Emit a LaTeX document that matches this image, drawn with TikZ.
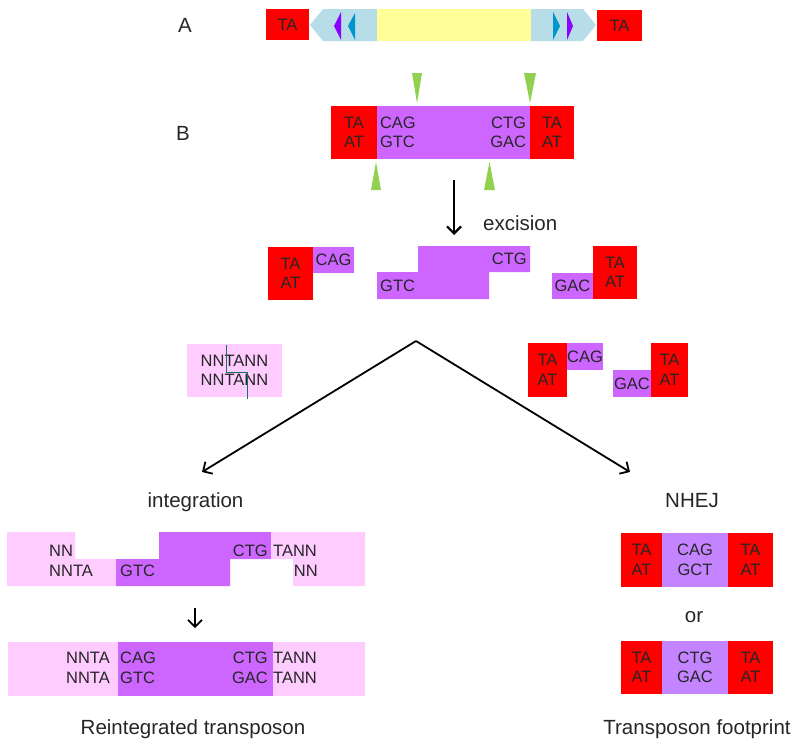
\documentclass[tikz,border=0pt]{standalone}
\usepackage{fontspec}
\setmainfont{Liberation Sans}
\usepackage{tikz}
\usetikzlibrary{arrows.meta,positioning,calc}
\definecolor{tsdred}{RGB}{255, 0, 0}
\definecolor{tnpurple}{RGB}{204, 102, 255}
\definecolor{fppurple}{RGB}{196, 132, 255}
\definecolor{hostpink}{RGB}{255, 204, 255}
\definecolor{tirblue}{RGB}{183, 221, 232}
\definecolor{cargoyellow}{RGB}{255, 255, 153}
\definecolor{cutgreen}{RGB}{146, 208, 80}
\definecolor{tirviolet}{RGB}{140, 0, 255}
\definecolor{tircyan}{RGB}{0, 150, 205}
\definecolor{staggergreen}{RGB}{20, 115, 90}

\begin{document}
\begin{tikzpicture}[
    x=1pt, y=-1pt,
    seq/.style={inner sep=0pt, text=black!85, font=\fontsize{16.5}{19.5}\selectfont, align=center},
    lbl/.style={inner sep=0pt, text=black!85, font=\fontsize{20.5}{24}\selectfont},
    block/.style={rectangle, draw=none, seq},
    tsd/.style={block, fill=tsdred},
    tn/.style={block, fill=tnpurple},
    fp/.style={block, fill=fppurple},
    host/.style={block, fill=hostpink},
    arrow/.style={-{Straight Barb[length=7pt,width=14pt]}, line width=1.8pt, black}
]
\useasboundingbox (0,0) rectangle (800,744);

% A: transposon in the genome
\node[lbl] (labA) at (185,25) {A};
\node[tsd, minimum width=43, minimum height=31] (aTSDl) at (287.5,24.5) {TA};
\node[tsd, minimum width=45, minimum height=31] (aTSDr) at (619.5,25.5) {TA};
\fill[tirblue] (310,25) -- (323,9) -- (583,9) -- (596,25) -- (583,41) -- (323,41) -- cycle;
\fill[cargoyellow] (377,9) rectangle (531,41);
\fill[tirviolet] (334,26) -- (341,12) -- (341,40) -- cycle;
\fill[tircyan] (348,26) -- (355,13) -- (355,40) -- cycle;
\fill[tircyan] (560,26) -- (553,12) -- (553,40) -- cycle;
\fill[tirviolet] (573,26) -- (567,12) -- (567,40) -- cycle;

% B: ends and cut sites
\node[lbl] (labB) at (183,133) {B};
\node[tsd, minimum width=46, minimum height=53] (bTSDl) at (354,132.5) {TA\\AT};
\node[tn, minimum width=153, minimum height=53] (bTn) at (453.5,132.5) {};
\node[tsd, minimum width=44, minimum height=53] (bTSDr) at (552,132.5) {TA\\AT};
\node[seq, anchor=west, align=left] (bEndL) at ([xshift=3]bTn.west) {CAG\\GTC};
\node[seq, anchor=east, align=right] (bEndR) at ([xshift=-4]bTn.east) {CTG\\GAC};
\fill[cutgreen] (412,73) -- (422,73) -- (417,103) -- cycle;
\fill[cutgreen] (524,73) -- (536,73) -- (530,103) -- cycle;
\fill[cutgreen] (371,190) -- (381,190) -- (376,162) -- cycle;
\fill[cutgreen] (484,190) -- (495,190) -- (489.5,162) -- cycle;

% excision
\coordinate (excTop) at (454,180);
\coordinate (excBot) at (454,235);
\draw[arrow, line width=2.2pt] (excTop) -- (excBot);
\node[lbl, anchor=west] (excLbl) at (483,223) {excision};

\node[tsd, minimum width=45, minimum height=53] (exTSDl) at (290.5,273.5) {TA\\AT};
\node[tn, minimum width=41, minimum height=26] (exCAG) at (333.5,260) {CAG};
\fill[tnpurple] (418,246) -- (530,246) -- (530,272) -- (489,272) -- (489,299) -- (377,299) -- (377,272) -- (418,272) -- cycle;
\node[seq, anchor=east] (exCTG) at (527,259) {CTG};
\node[seq, anchor=west] (exGTC) at (380,286) {GTC};
\node[tn, minimum width=41, minimum height=26] (exGAC) at (572.5,286) {GAC};
\node[tsd, minimum width=44, minimum height=53] (exTSDr) at (615,272.5) {TA\\AT};

% target site and donor site
\node[host, minimum width=95, minimum height=53] (target) at (234.5,370.5) {NNTANN\\NNTANN};
\draw[staggergreen, line width=0.9pt] (226,345) -- (226,372) -- (247,372) -- (247,399);

\node[tsd, minimum width=39, minimum height=54] (dTSDl) at (547.5,370) {TA\\AT};
\node[tn, minimum width=36, minimum height=27] (dCAG) at (585,356.5) {CAG};
\node[tn, minimum width=38, minimum height=27] (dGAC) at (632,383.5) {GAC};
\node[tsd, minimum width=37, minimum height=54] (dTSDr) at (669.5,370) {TA\\AT};

\coordinate (fork) at (416,341);
\coordinate (intTip) at (202,472);
\coordinate (nhejTip) at (630,472);
\draw[arrow] (fork) -- (intTip);
\draw[arrow] (fork) -- (nhejTip);
\node[lbl] (intLbl) at (195.5,502) {integration};
\node[lbl] (nhejLbl) at (692,501) {NHEJ};

% integration
\fill[hostpink] (7,532) -- (75,532) -- (75,559) -- (116,559) -- (116,586) -- (7,586) -- cycle;
\fill[tnpurple] (159,532) -- (271,532) -- (271,559) -- (230,559) -- (230,586) -- (116,586) -- (116,559) -- (159,559) -- cycle;
\fill[hostpink] (271,532) -- (365,532) -- (365,586) -- (293,586) -- (293,559) -- (271,559) -- cycle;
\node[seq, anchor=west] (iNNtop) at (49,551) {NN};
\node[seq, anchor=west] (iNNTA) at (49,571) {NNTA};
\node[seq, anchor=west] (iGTC) at (120,571) {GTC};
\node[seq, anchor=east] (iCTG) at (268,551) {CTG};
\node[seq, anchor=west] (iTANN) at (273,551) {TANN};
\node[seq, anchor=east] (iNNbot) at (318,571) {NN};

\coordinate (repTop) at (195,608);
\coordinate (repBot) at (195,628);
\draw[arrow, line width=1.6pt] (repTop) -- (repBot);

\node[host, minimum width=357, minimum height=54] (reHost) at (186.5,669) {};
\node[tn, minimum width=155, minimum height=54] (reTn) at (195.5,669) {};
\node[seq, anchor=east, align=right] (reLeft) at (110,668) {NNTA\\NNTA};
\node[seq, anchor=west, align=left] (reEndL) at (120,668) {CAG\\GTC};
\node[seq, anchor=east, align=right] (reEndR) at (268,668) {CTG\\GAC};
\node[seq, anchor=west, align=left] (reRight) at (273,668) {TANN\\TANN};
\node[lbl] (reCap) at (193,729) {Reintegrated transposon};

% NHEJ footprints
\node[tsd, minimum width=41, minimum height=54] (f1TSDl) at (641.5,560) {TA\\AT};
\node[fp, minimum width=66, minimum height=54] (f1Mid) at (695,560) {CAG\\GCT};
\node[tsd, minimum width=45, minimum height=54] (f1TSDr) at (750.5,560) {TA\\AT};
\node[lbl] (orLbl) at (694,617) {or};
\node[tsd, minimum width=41, minimum height=53] (f2TSDl) at (641.5,667.5) {TA\\AT};
\node[fp, minimum width=66, minimum height=53] (f2Mid) at (695,667.5) {CTG\\GAC};
\node[tsd, minimum width=45, minimum height=53] (f2TSDr) at (750.5,667.5) {TA\\AT};
\node[lbl] (fpCap) at (697,729) {Transposon footprint};

\end{tikzpicture}
\end{document}
